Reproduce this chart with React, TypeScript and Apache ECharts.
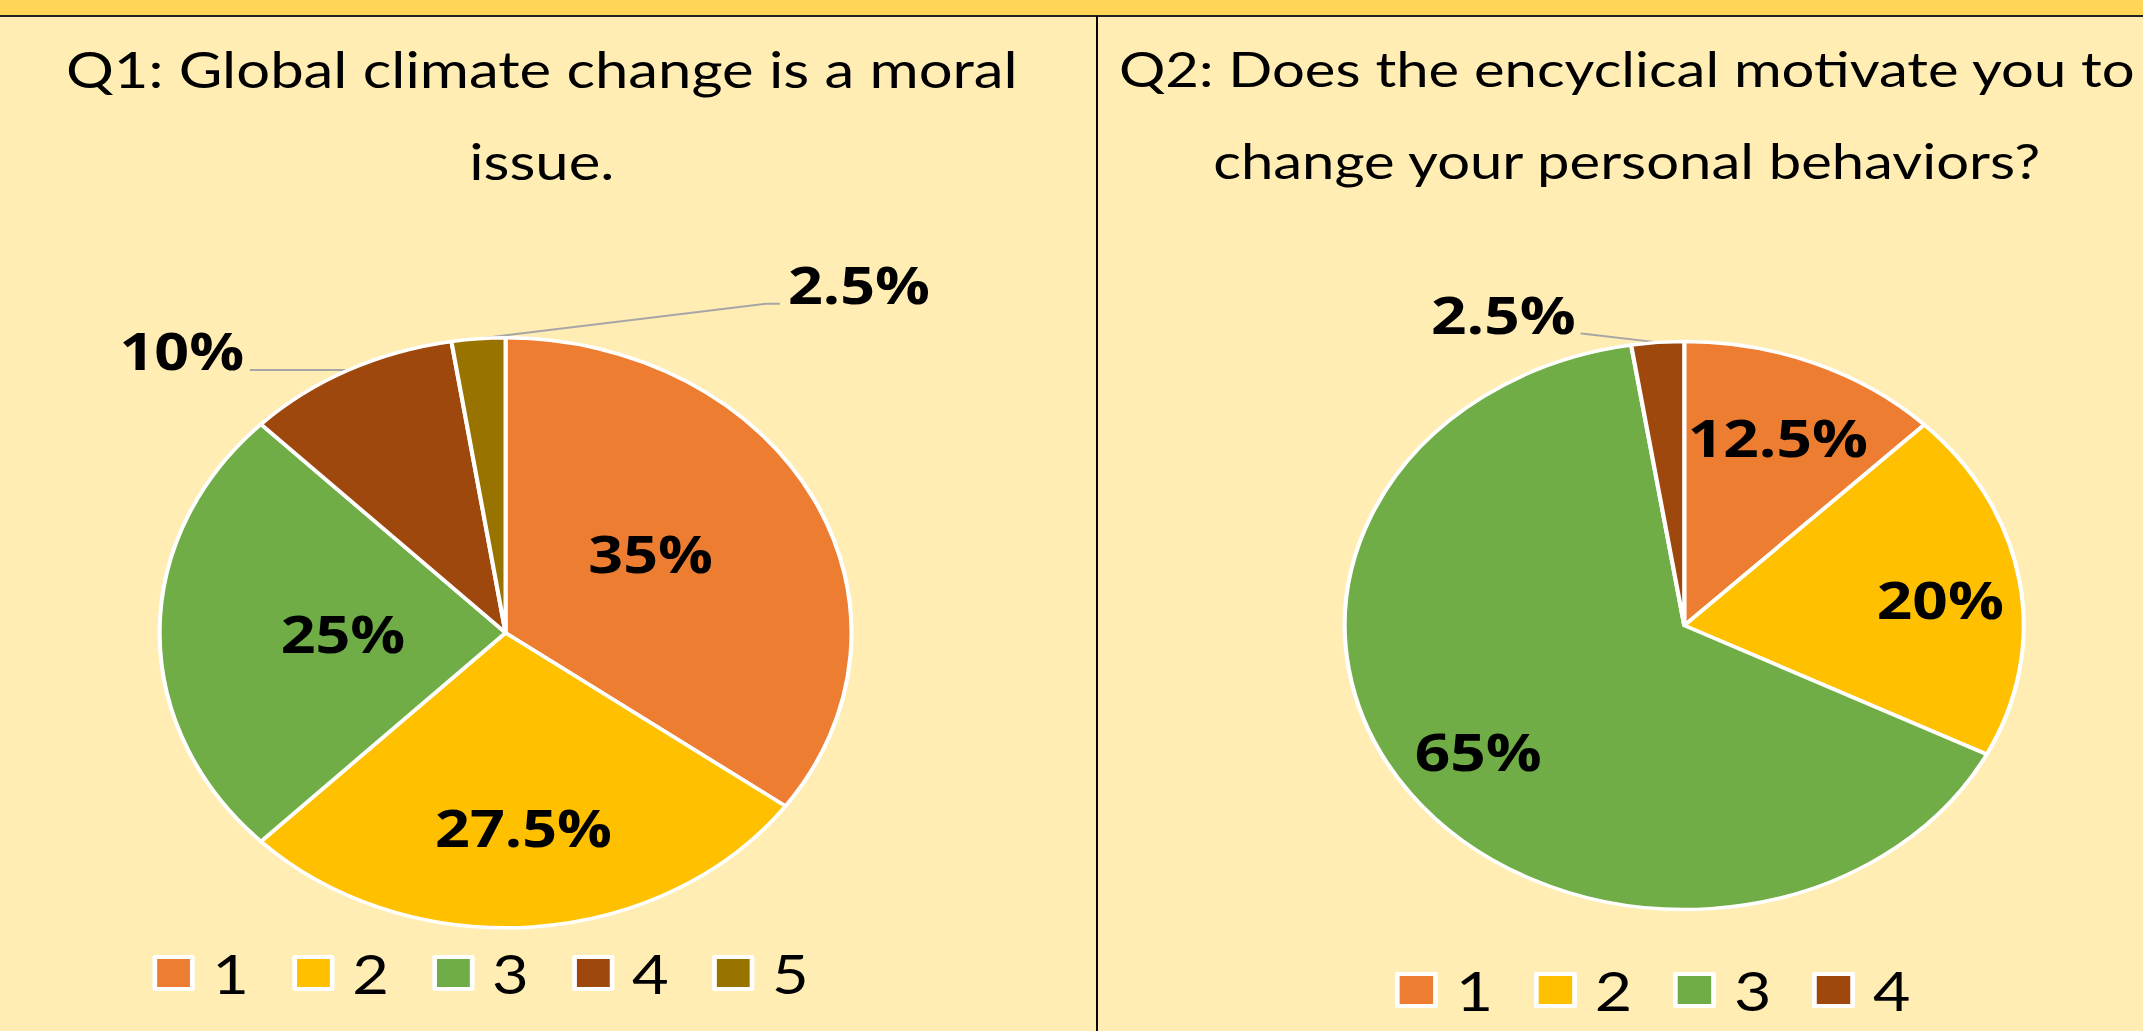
import React, { useEffect, useRef } from 'react';
import * as echarts from 'echarts';

// ---------- data ----------
const Q1_TITLE = 'Q1: Global climate change is a moral\nissue.';
const Q1_CATEGORIES = ['1', '2', '3', '4', '5'];
const Q1_VALUES = [35, 27.5, 25, 10, 2.5];

const Q2_TITLE = 'Q2: Does the encyclical motivate you to\nchange your personal behaviors?';
const Q2_CATEGORIES = ['1', '2', '3', '4'];
const Q2_VALUES = [12.5, 20, 65, 2.5];

// ---------- style / layout ----------
const COLORS = ['#ED7D31', '#FFC000', '#70AD47', '#9E480E', '#997300'];
const BG = '#FFEDB4';
const BAR = '#FFD658';
const LEADER = '#A6A6A6';
const PAGE_W = 2143;
const PAGE_H = 1031;
const SPLIT_X = 1096;

type Leader = { knee: number[]; end: number[]; label: number[]; align: string };
type Panel = {
  title: string;
  titleX: number;
  titleSize: number;
  categories: string[];
  values: number[];
  width: number;
  stretch: number;
  cx: number;
  cy: number;
  r: number;
  labelRadius: (number | null)[];
  labelAngleShift: number[];
  leaders: Record<number, Leader>;
  legendLeft: number;
  legendTop: number;
  legendGap: number;
  divider: boolean;
};

const Q1_LABEL_RADIUS = [0.5, 0.66, 0.47, null, null];
const Q1_LABEL_ANGLE_SHIFT = [-6, 0, 0, 0, 0];
const Q1_LEADERS: Record<number, Leader> = {
  3: { knee: [-42, 0], end: [-84, 0], label: [-5, -20], align: 'right' },
  4: { knee: [245, -35], end: [257, -35], label: [7, -20], align: 'left' },
};
const Q2_LABEL_RADIUS = [0.72, 0.76, 0.75, null];
const Q2_LABEL_ANGLE_SHIFT = [0, 2, 0, 0];
const Q2_LEADERS: Record<number, Leader> = {
  3: { knee: [-60, -8.4], end: [-64.5, -9], label: [-4, -19], align: 'right' },
};

const PANEL_Q1: Panel = {
  title: Q1_TITLE,
  titleX: 462,
  titleSize: 51,
  categories: Q1_CATEGORIES,
  values: Q1_VALUES,
  width: 935,
  stretch: 1.1727,
  cx: 431.1,
  cy: 632.8,
  r: 295,
  labelRadius: Q1_LABEL_RADIUS,
  labelAngleShift: Q1_LABEL_ANGLE_SHIFT,
  leaders: Q1_LEADERS,
  legendLeft: 130,
  legendTop: 946,
  legendGap: 37,
  divider: false,
};

const PANEL_Q2: Panel = {
  title: Q2_TITLE,
  titleX: 444,
  titleSize: 48.5,
  categories: Q2_CATEGORIES,
  values: Q2_VALUES,
  width: 876,
  stretch: 1.1954,
  cx: 492.1,
  cy: 625.5,
  r: 284,
  labelRadius: Q2_LABEL_RADIUS,
  labelAngleShift: Q2_LABEL_ANGLE_SHIFT,
  leaders: Q2_LEADERS,
  legendLeft: 250,
  legendTop: 963,
  legendGap: 34,
  divider: true,
};

const LABEL_FONT = { fontFamily: '"Open Sans", "DejaVu Sans", sans-serif', fontWeight: 'bold' as const, fontSize: 52, color: '#000' };

function buildOption(p: Panel) {
  const total = p.values.reduce((a, b) => a + b, 0);
  const edgePoint = (i: number) => {
    let cum = 0;
    for (let k = 0; k < i; k++) cum += p.values[k];
    const th = ((cum + p.values[i] / 2) / total) * 2 * Math.PI;
    return [p.cx + p.r * Math.sin(th), p.cy - p.r * Math.cos(th)];
  };

  const graphic: any[] = [
    { type: 'rect', shape: { x: 0, y: 0, width: p.width, height: 15 }, style: { fill: BAR }, silent: true },
    { type: 'line', shape: { x1: 0, y1: 16, x2: p.width, y2: 16 }, style: { stroke: '#222', lineWidth: 2 }, silent: true },
    {
      type: 'text',
      x: p.titleX,
      y: 22,
      style: {
        text: p.title,
        fontFamily: 'Lato, "Open Sans", sans-serif',
        fontSize: p.titleSize,
        lineHeight: 92,
        fill: '#000',
        align: 'center',
        verticalAlign: 'top',
      },
      silent: true,
    },
  ];
  if (p.divider) {
    graphic.push({ type: 'line', shape: { x1: 0.8, y1: 16, x2: 0.8, y2: PAGE_H }, style: { stroke: '#000', lineWidth: 1.7 }, silent: true });
  }

  return {
    animation: false,
    backgroundColor: BG,
    graphic,
    legend: {
      data: p.categories,
      left: p.legendLeft,
      top: p.legendTop,
      orient: 'horizontal',
      icon: 'rect',
      itemWidth: 32,
      itemHeight: 32,
      itemGap: p.legendGap,
      padding: 0,
      selectedMode: false,
      itemStyle: { borderColor: '#fff', borderWidth: 4 },
      textStyle: { fontFamily: 'Lato, "Open Sans", sans-serif', fontSize: 54, color: '#000', padding: [0, 0, 0, 12], lineHeight: 36 },
    },
    series: [
      {
        type: 'pie',
        center: [p.cx, p.cy],
        radius: p.r,
        startAngle: 90,
        clockwise: true,
        avoidLabelOverlap: false,
        silent: true,
        itemStyle: { borderColor: '#fff', borderWidth: 3.5 },
        label: { show: true, position: 'inside', formatter: (x: any) => `${x.value}%`, ...LABEL_FONT },
        labelLine: { show: false, lineStyle: { color: LEADER, width: 2 } },
        emphasis: { disabled: true },
        data: p.categories.map((name, i) => {
          const item: any = { name, value: p.values[i], itemStyle: { color: COLORS[i] } };
          if (p.labelRadius[i] == null) {
            item.label = { position: 'outside' };
            item.labelLine = { show: true, length: 8, length2: 8, lineStyle: { color: LEADER, width: 2 } };
          }
          return item;
        }),
        labelLayout: (params: any) => {
          const i = params.dataIndex;
          const f = p.labelRadius[i];
          if (f != null) {
            const rect = params.labelRect;
            const lx = rect.x + rect.width / 2;
            const ly = rect.y + rect.height / 2;
            const vx = lx - p.cx;
            const vy = ly - p.cy;
            const d = Math.hypot(vx, vy) || 1;
            const a = ((p.labelAngleShift[i] || 0) * Math.PI) / 180;
            const ux = (vx / d) * Math.cos(a) - (vy / d) * Math.sin(a);
            const uy = (vx / d) * Math.sin(a) + (vy / d) * Math.cos(a);
            const t = f * p.r;
            return { dx: p.cx + ux * t - lx, dy: p.cy + uy * t - ly };
          }
          const ld = p.leaders[i];
          if (!ld) return {};
          const p0 = edgePoint(i);
          const knee = [p0[0] + ld.knee[0], p0[1] + ld.knee[1]];
          const end = [p0[0] + ld.end[0], p0[1] + ld.end[1]];
          return {
            x: end[0] + ld.label[0],
            y: end[1] + ld.label[1],
            align: ld.align,
            verticalAlign: 'middle',
            labelLinePoints: [p0, knee, end],
          };
        },
      },
    ],
  };
}

export default function App() {
  const leftRef = useRef<HTMLDivElement>(null);
  const rightRef = useRef<HTMLDivElement>(null);

  useEffect(() => {
    document.body.style.margin = '0';
    const charts: echarts.ECharts[] = [];
    if (leftRef.current) {
      const c = echarts.init(leftRef.current, null, { renderer: 'svg' });
      c.setOption(buildOption(PANEL_Q1) as any);
      charts.push(c);
    }
    if (rightRef.current) {
      const c = echarts.init(rightRef.current, null, { renderer: 'svg' });
      c.setOption(buildOption(PANEL_Q2) as any);
      charts.push(c);
    }
    return () => charts.forEach((c) => c.dispose());
  }, []);

  return (
    <div style={{ position: 'relative', width: PAGE_W, height: PAGE_H, overflow: 'hidden', background: BG }}>
      <div
        ref={leftRef}
        style={{
          position: 'absolute',
          left: 0,
          top: 0,
          width: PANEL_Q1.width,
          height: PAGE_H,
          transform: `scaleX(${PANEL_Q1.stretch})`,
          transformOrigin: '0 0',
        }}
      />
      <div
        ref={rightRef}
        style={{
          position: 'absolute',
          left: SPLIT_X,
          top: 0,
          width: PANEL_Q2.width,
          height: PAGE_H,
          transform: `scaleX(${PANEL_Q2.stretch})`,
          transformOrigin: '0 0',
        }}
      />
    </div>
  );
}
